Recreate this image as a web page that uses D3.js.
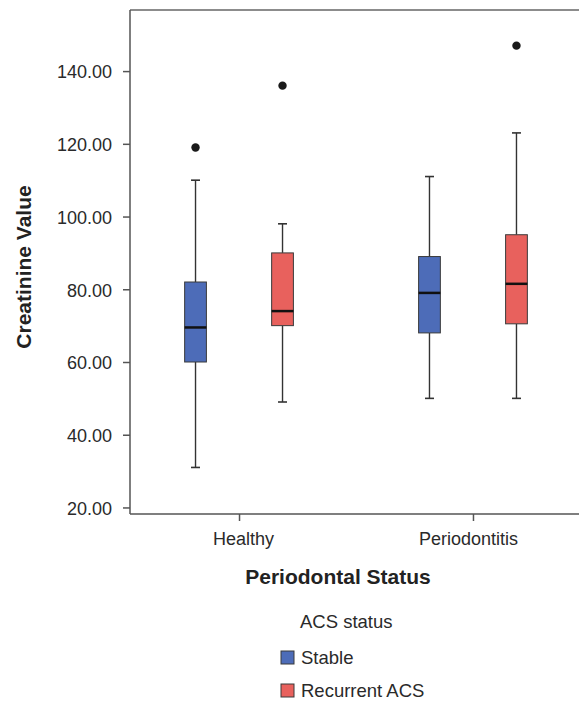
<!DOCTYPE html>
<html>
<head>
<meta charset="utf-8">
<script src="https://cdn.jsdelivr.net/npm/d3@7/dist/d3.min.js"></script>
<style>
  html, body { margin: 0; padding: 0; background: #fff; }
  svg { display: block; font-family: "Liberation Sans", Arial, sans-serif; }
</style>
</head>
<body>
<svg id="chart" width="579" height="701"></svg>
<script>
// ---- Data ----
const categories = ["Healthy", "Periodontitis"];
const groups = ["Stable", "Recurrent ACS"];
const groupColors = ["#4d6cb8", "#e8615d"];

const stableMin      = [31, 50];
const stableQ1       = [60, 68];
const stableMedian   = [69.5, 79];
const stableQ3       = [82, 89];
const stableMax      = [110, 111];
const stableOutliers = [[119], []];

const recurrentMin      = [49, 50];
const recurrentQ1       = [70, 70.5];
const recurrentMedian   = [74, 81.5];
const recurrentQ3       = [90, 95];
const recurrentMax      = [98, 123];
const recurrentOutliers = [[136], [147]];

const yTicks = [20, 40, 60, 80, 100, 120, 140];

// ---- Build records ----
const boxes = [];
categories.forEach((c, i) => {
  boxes.push({cat: c, group: groups[0], min: stableMin[i], q1: stableQ1[i], median: stableMedian[i], q3: stableQ3[i], max: stableMax[i], outliers: stableOutliers[i]});
  boxes.push({cat: c, group: groups[1], min: recurrentMin[i], q1: recurrentQ1[i], median: recurrentMedian[i], q3: recurrentQ3[i], max: recurrentMax[i], outliers: recurrentOutliers[i]});
});

// ---- Layout ----
const svg = d3.select("#chart");
const pLeft = 130, pRight = 582, pTop = 10, pBottom = 514;

const y = d3.scaleLinear().domain([18.2, 156.8]).range([pBottom, pTop]);
const x = d3.scalePoint().domain(categories).range([pLeft, pRight]).padding(0.466);
const xInner = d3.scaleBand().domain(groups).range([-87, 87]).padding(0);
const color = d3.scaleOrdinal().domain(groups).range(groupColors);
const boxW = xInner.bandwidth() * 0.25;
const capW = 9;

// top frame line
svg.append("line")
  .attr("x1", pLeft).attr("x2", pRight)
  .attr("y1", pTop).attr("y2", pTop)
  .attr("stroke", "#8c8c8c").attr("stroke-width", 2);

// Y axis
const yAxis = svg.append("g")
  .attr("transform", `translate(${pLeft},0)`)
  .call(d3.axisLeft(y).tickValues(yTicks).tickFormat(d3.format(".2f")).tickSize(7).tickSizeOuter(0).tickPadding(11));
yAxis.select(".domain").attr("d", `M0,${pTop}V${pBottom}`).attr("stroke", "#555").attr("stroke-width", 1.5);
yAxis.selectAll(".tick line").attr("stroke", "#555").attr("stroke-width", 1.5);
yAxis.selectAll(".tick text").attr("font-size", 18).attr("fill", "#2a2a2a")
  .attr("font-family", "Liberation Sans, Arial, sans-serif").attr("dy", "0.38em");

// X axis
const xAxis = svg.append("g")
  .attr("transform", `translate(0,${pBottom})`)
  .call(d3.axisBottom(x).tickSize(7).tickSizeOuter(0).tickPadding(11));
xAxis.select(".domain").attr("d", `M${pLeft},0H${pRight}`).attr("stroke", "#555").attr("stroke-width", 1.5);
xAxis.selectAll(".tick line").attr("stroke", "#555").attr("stroke-width", 1.5);
xAxis.selectAll(".tick text").attr("font-size", 18).attr("fill", "#2a2a2a")
  .attr("font-family", "Liberation Sans, Arial, sans-serif")
  .attr("dx", (d, i) => i === 0 ? 4 : -5);

// Boxes
const g = svg.append("g");
const bx = d => x(d.cat) + xInner(d.group) + xInner.bandwidth() / 2;

const items = g.selectAll(".box").data(boxes).join("g").attr("class", "box");

// whiskers
items.append("line")
  .attr("x1", bx).attr("x2", bx)
  .attr("y1", d => y(d.max)).attr("y2", d => y(d.q3))
  .attr("stroke", "#333").attr("stroke-width", 1.4);
items.append("line")
  .attr("x1", bx).attr("x2", bx)
  .attr("y1", d => y(d.q1)).attr("y2", d => y(d.min))
  .attr("stroke", "#333").attr("stroke-width", 1.4);
// caps
items.append("line")
  .attr("x1", d => bx(d) - capW / 2).attr("x2", d => bx(d) + capW / 2)
  .attr("y1", d => y(d.max)).attr("y2", d => y(d.max))
  .attr("stroke", "#333").attr("stroke-width", 1.6);
items.append("line")
  .attr("x1", d => bx(d) - capW / 2).attr("x2", d => bx(d) + capW / 2)
  .attr("y1", d => y(d.min)).attr("y2", d => y(d.min))
  .attr("stroke", "#333").attr("stroke-width", 1.6);
// box
items.append("rect")
  .attr("x", d => bx(d) - boxW / 2)
  .attr("width", boxW)
  .attr("y", d => y(d.q3))
  .attr("height", d => y(d.q1) - y(d.q3))
  .attr("fill", d => color(d.group))
  .attr("stroke", "#3a3a3a").attr("stroke-width", 1);
// median
items.append("line")
  .attr("x1", d => bx(d) - boxW / 2).attr("x2", d => bx(d) + boxW / 2)
  .attr("y1", d => y(d.median)).attr("y2", d => y(d.median))
  .attr("stroke", "#111").attr("stroke-width", 2.5);
// outliers
items.selectAll("circle").data(d => d.outliers.map(v => ({v, d}))).join("circle")
  .attr("cx", o => bx(o.d))
  .attr("cy", o => y(o.v))
  .attr("r", 4.2)
  .attr("fill", "#1a1a1a");

// Axis titles
svg.append("text")
  .attr("transform", `translate(31,${(pTop + pBottom) / 2 + 5}) rotate(-90)`)
  .attr("text-anchor", "middle")
  .attr("font-size", 21).attr("font-weight", "bold").attr("fill", "#222")
  .text("Creatinine Value");

svg.append("text")
  .attr("x", 338).attr("y", 584)
  .attr("text-anchor", "middle")
  .attr("font-size", 21).attr("font-weight", "bold").attr("fill", "#222")
  .text("Periodontal Status");

// Legend
const legend = svg.append("g");
legend.append("text")
  .attr("x", 300).attr("y", 628)
  .attr("font-size", 18.5).attr("fill", "#2a2a2a")
  .text("ACS status");
const rows = legend.selectAll(".row").data(groups).join("g").attr("class", "row")
  .attr("transform", (d, i) => `translate(281,${651 + i * 33})`);
rows.append("rect")
  .attr("width", 13).attr("height", 13)
  .attr("fill", d => color(d))
  .attr("stroke", "#3a3a3a").attr("stroke-width", 1);
rows.append("text")
  .attr("x", 20).attr("y", 13)
  .attr("font-size", 18.5).attr("fill", "#2a2a2a")
  .text(d => d);
</script>
</body>
</html>
